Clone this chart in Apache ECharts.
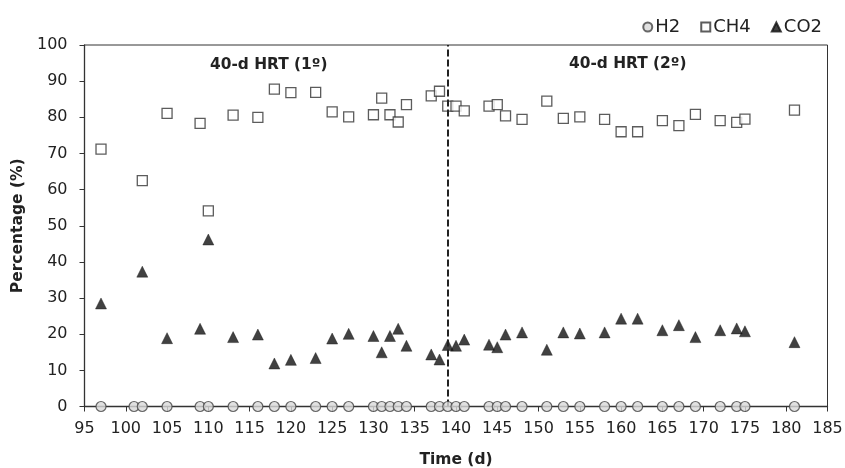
<!DOCTYPE html>
<html>
<head>
<meta charset="utf-8">
<script src="https://cdn.jsdelivr.net/npm/echarts@6/dist/echarts.min.js"></script>
<style>
  html, body { margin: 0; padding: 0; background: #fff; }
  #main { width: 845px; height: 468px; }
</style>
</head>
<body>
<div id="main"></div>
<script>
// dias de muestreo
var days_h2 = [97, 101, 102, 105, 109, 110, 113, 116, 118, 120, 123, 125, 127, 130, 131, 132, 133, 134,
    137, 138, 139, 140, 141, 144, 145, 146, 148, 151, 153, 155, 158, 160, 162, 165, 167, 169, 172, 174, 175, 181];
var h2 = [0, 0, 0, 0, 0, 0, 0, 0, 0, 0, 0, 0, 0, 0, 0, 0, 0, 0,
    0, 0, 0, 0, 0, 0, 0, 0, 0, 0, 0, 0, 0, 0, 0, 0, 0, 0, 0, 0, 0, 0];

var days = [97, 102, 105, 109, 110, 113, 116, 118, 120, 123, 125, 127, 130, 131, 132, 133, 134,
    137, 138, 139, 140, 141, 144, 145, 146, 148, 151, 153, 155, 158, 160, 162, 165, 167, 169, 172, 174, 175, 181];
var ch4 = [71.2, 62.5, 81.1, 78.3, 54.1, 80.6, 80.0, 87.8, 86.8, 86.9, 81.5, 80.1, 80.7, 85.3, 80.7, 78.7, 83.5,
    85.9, 87.2, 83.1, 83.1, 81.8, 83.1, 83.5, 80.4, 79.4, 84.5, 79.7, 80.1, 79.4, 76.0, 76.0, 79.1, 77.7, 80.8, 79.1, 78.6, 79.5, 82.0];
var co2 = [28.5, 37.3, 18.9, 21.5, 46.2, 19.2, 19.9, 11.9, 12.9, 13.4, 18.8, 20.1, 19.5, 15.0, 19.5, 21.5, 16.8,
    14.4, 13.0, 17.0, 16.8, 18.5, 17.1, 16.4, 19.9, 20.5, 15.7, 20.5, 20.2, 20.5, 24.3, 24.3, 21.1, 22.5, 19.2, 21.1, 21.6, 20.8, 17.8];

var cambio_hrt = 139;
var etiquetas = ['40-d HRT (1º)', '40-d HRT (2º)'];

function pares(x, y){
    var out = [];
    for (var i = 0; i < x.length; i++){
        out.push([x[i], y[i]]);
    }
    return out;
}

var fuente = '"DejaVu Sans", "Liberation Sans", Arial, sans-serif';
var chartDom = document.getElementById('main');
var myChart = echarts.init(chartDom);
var option = {
    animation: false,
    textStyle: { fontFamily: fuente },
    grid: {
        left: 84.5, right: 17.5, top: 45, bottom: 61.5,
        outerBoundsMode: 'none',
        show: true, borderColor: '#333', borderWidth: 1
    },
    legend: {
        data: ['H2', 'CH4', 'CO2'],
        right: 18,
        top: 13,
        itemWidth: 9,
        itemHeight: 9,
        itemGap: 20,
        textStyle: { fontSize: 18, color: '#222', fontFamily: fuente, padding: [0, 0, 0, -2] }
    },
    xAxis: {
        type: 'value',
        min: 95, max: 185, interval: 5,
        name: 'Time (d)',
        nameLocation: 'middle',
        nameGap: 45,
        nameTextStyle: { fontSize: 15.5, fontWeight: 'bold', color: '#222', fontFamily: fuente },
        axisLine: { lineStyle: { color: '#333', width: 1.3 } },
        axisTick: { length: 5, lineStyle: { color: '#333' } },
        axisLabel: { fontSize: 16, color: '#222', margin: 14, fontFamily: fuente },
        splitLine: { show: false }
    },
    yAxis: {
        type: 'value',
        min: 0, max: 100, interval: 10,
        name: 'Percentage (%)',
        nameLocation: 'middle',
        nameGap: 53,
        nameTextStyle: { fontSize: 15.5, fontWeight: 'bold', color: '#222', fontFamily: fuente },
        axisLine: { show: true, lineStyle: { color: '#333', width: 1.3 } },
        axisTick: { show: true, length: 5, lineStyle: { color: '#333' } },
        axisLabel: { fontSize: 16, color: '#222', margin: 17, fontFamily: fuente },
        splitLine: { show: false }
    },
    graphic: [
        { type: 'text', left: 210, top: 57,
          style: { text: etiquetas[0], font: 'bold 15.4px ' + fuente, fill: '#222' } },
        { type: 'text', left: 569, top: 56,
          style: { text: etiquetas[1], font: 'bold 15.4px ' + fuente, fill: '#222' } }
    ],
    series: [
        {
            name: 'CH4',
            type: 'scatter',
            symbol: 'rect',
            symbolSize: 10,
            data: pares(days, ch4),
            itemStyle: { color: '#fff', borderColor: '#333', borderWidth: 1.3 },
            markLine: {
                silent: true,
                symbol: 'none',
                label: { show: false },
                lineStyle: { type: [7, 3], color: '#222', width: 2 },
                data: [{ xAxis: cambio_hrt }]
            }
        },
        {
            name: 'CO2',
            type: 'scatter',
            symbol: 'triangle',
            symbolSize: 11,
            data: pares(days, co2),
            itemStyle: { color: '#111', borderColor: '#111', borderWidth: 0.5 }
        },
        {
            name: 'H2',
            type: 'scatter',
            symbol: 'circle',
            symbolSize: 10,
            data: pares(days_h2, h2),
            itemStyle: { color: '#d9d9d9', borderColor: '#444', borderWidth: 1.2 },
            z: 5
        }
    ]
};
option && myChart.setOption(option);
</script>
</body>
</html>
